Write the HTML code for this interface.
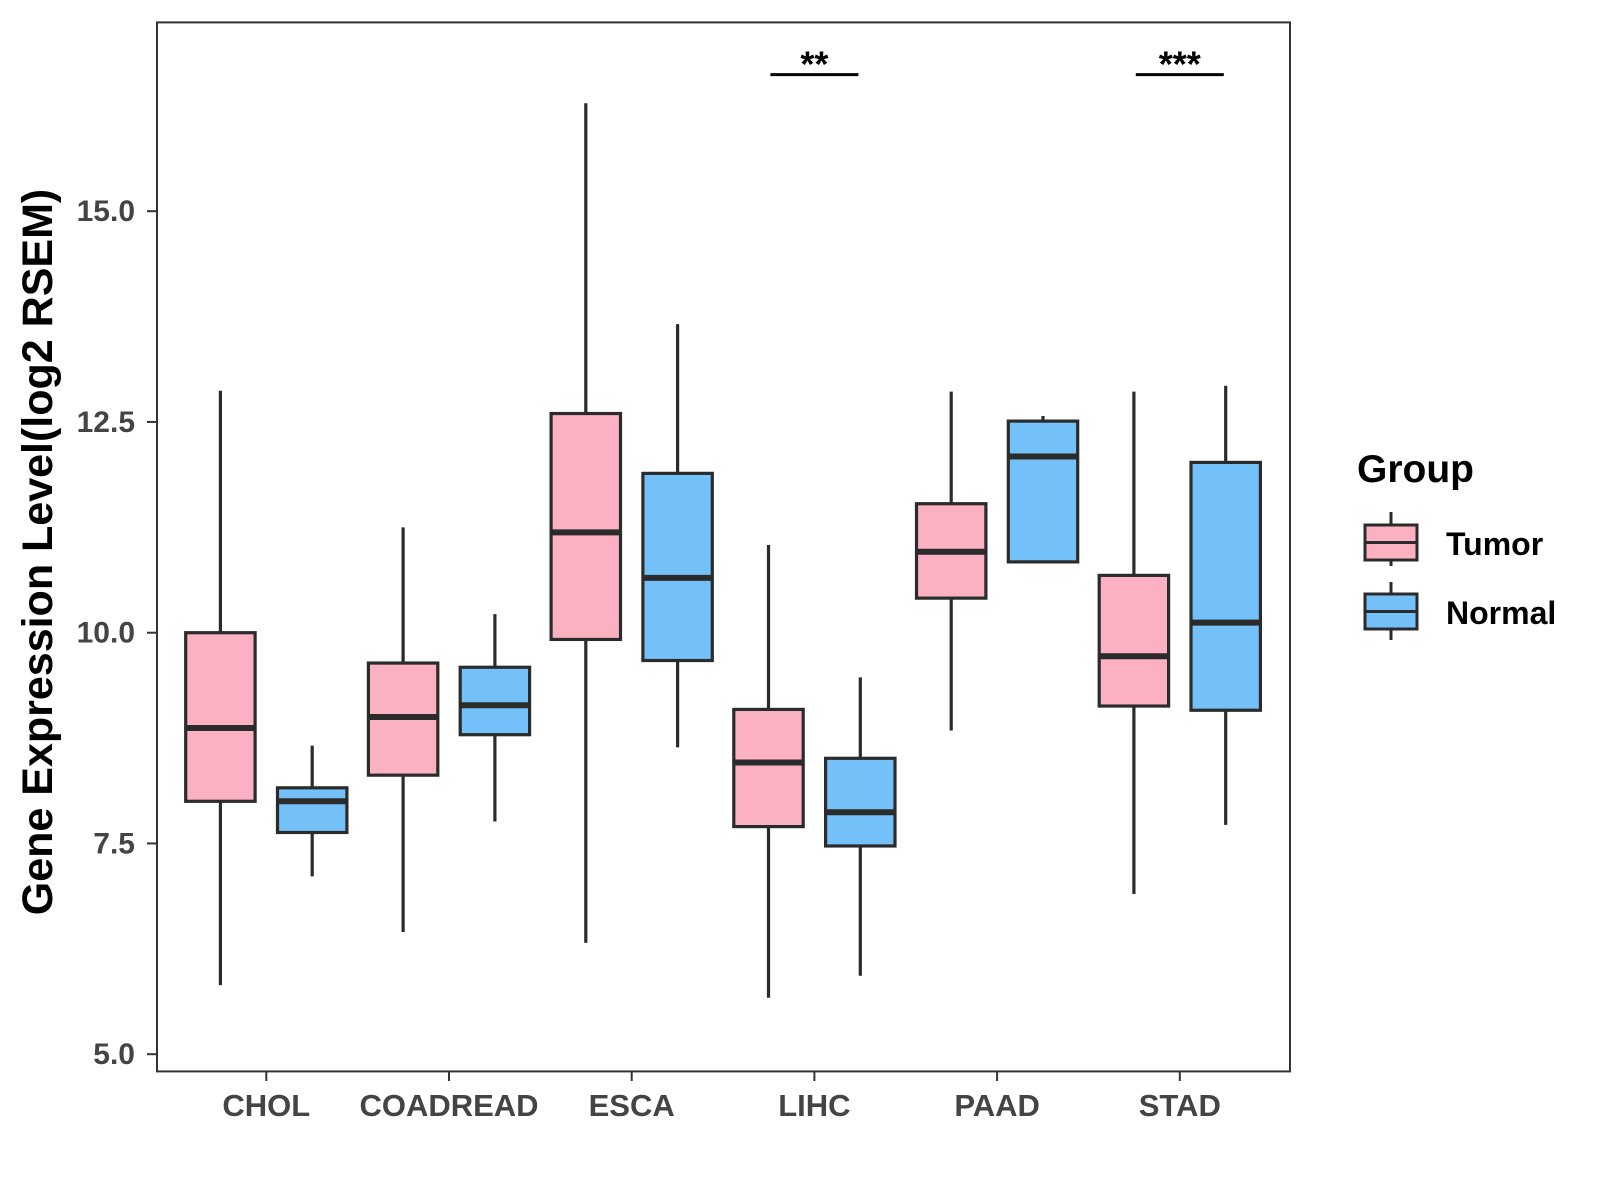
<!DOCTYPE html>
<html><head><meta charset="utf-8"><style>
html,body{margin:0;padding:0;background:#fff;}
svg{display:block;font-family:"Liberation Sans",Arial,sans-serif;}
</style></head><body>
<svg id="chart" width="1600" height="1200" viewBox="0 0 1600 1200">
<rect x="157" y="22.4" width="1133" height="1049" fill="#fff" stroke="#333" stroke-width="2"/>
<g id="marks"></g>
<text x="52" y="552" transform="rotate(-90 52 552)" text-anchor="middle" font-size="43" font-weight="bold" fill="#000">Gene Expression Level(log2 RSEM)</text>
<g>
<text x="1357" y="482" font-size="39" font-weight="bold" fill="#000">Group</text>
<g>
<line x1="1391" y1="512" x2="1391" y2="566" stroke="#2b2b2b" stroke-width="3"/>
<rect x="1365" y="525" width="52" height="35" fill="#FBB1C2" stroke="#2b2b2b" stroke-width="3"/>
<line x1="1365" y1="542.5" x2="1417" y2="542.5" stroke="#2b2b2b" stroke-width="3"/>
<text x="1446" y="555" font-size="32" font-weight="bold" fill="#000">Tumor</text>
</g>
<g>
<line x1="1391" y1="582" x2="1391" y2="640" stroke="#2b2b2b" stroke-width="3"/>
<rect x="1365" y="594" width="52" height="35" fill="#74C0F8" stroke="#2b2b2b" stroke-width="3"/>
<line x1="1365" y1="611.5" x2="1417" y2="611.5" stroke="#2b2b2b" stroke-width="3"/>
<text x="1446" y="624" font-size="32" font-weight="bold" fill="#000">Normal</text>
</g>
</g>
</svg>
<script>
const categories=["CHOL","COADREAD","ESCA","LIHC","PAAD","STAD"];
const tumorLow=[5.82,6.45,6.32,5.67,8.84,6.90];
const tumorQ1=[8.0,8.31,9.92,7.70,10.41,9.13];
const tumorMed=[8.87,9.0,11.19,8.46,10.96,9.72];
const tumorQ3=[10.0,9.64,12.6,9.09,11.53,10.68];
const tumorHigh=[12.87,11.25,16.28,11.04,12.86,12.86];
const normalLow=[7.11,7.76,8.64,5.93,10.84,7.72];
const normalQ1=[7.63,8.79,9.67,7.47,10.84,9.08];
const normalMed=[8.0,9.14,10.65,7.87,12.09,10.12];
const normalQ3=[8.16,9.59,11.89,8.51,12.51,12.02];
const normalHigh=[8.66,10.22,13.66,9.47,12.57,12.93];
const yTicks=[5.0,7.5,10.0,12.5,15.0];
const sigCategories=["LIHC","STAD"];
const sigLabels=["**","***"];
const sigLevel=16.62;

const NS="http://www.w3.org/2000/svg";
const g=document.getElementById('marks');
function y(v){return 211.2+(15-v)*84.3;}
function x(i){return 266.3+i*182.7;}
function mk(tag,attrs,parent){const e=document.createElementNS(NS,tag);for(const k in attrs)e.setAttribute(k,attrs[k]);(parent||g).appendChild(e);return e;}
const ST="#2b2b2b";
function box(cx,lo,q1,md,q3,hi,fill,name){
  const grp=mk('g',{});
  
  
  mk('line',{x1:cx,x2:cx,y1:y(hi),y2:y(lo),stroke:ST,'stroke-width':3.2},grp);
  mk('rect',{x:cx-34.7,y:y(q3),width:69.4,height:y(q1)-y(q3),fill:fill,stroke:ST,'stroke-width':3.2},grp);
  mk('line',{x1:cx-34.7,x2:cx+34.7,y1:y(md),y2:y(md),stroke:ST,'stroke-width':6},grp);
}
categories.forEach((c,i)=>{
  box(x(i)-45.9,tumorLow[i],tumorQ1[i],tumorMed[i],tumorQ3[i],tumorHigh[i],"#FBB1C2","box-tumor-"+c.toLowerCase());
  box(x(i)+45.9,normalLow[i],normalQ1[i],normalMed[i],normalQ3[i],normalHigh[i],"#74C0F8","box-normal-"+c.toLowerCase());
  mk('line',{x1:x(i),x2:x(i),y1:1071,y2:1081,stroke:'#333','stroke-width':2});
  const t=mk('text',{x:x(i),y:1116,'text-anchor':'middle','font-size':31,'font-weight':'bold',fill:'#444'});
  t.textContent=c;
  
  
});
yTicks.forEach(v=>{
  mk('line',{x1:147,x2:157,y1:y(v),y2:y(v),stroke:'#333','stroke-width':2});
  const t=mk('text',{x:135,y:y(v)+10,'text-anchor':'end','font-size':30,'font-weight':'bold',fill:'#444'});
  t.textContent=v.toFixed(1);
  
  
});
sigCategories.forEach((c,j)=>{
  const i=categories.indexOf(c);
  const l=mk('line',{x1:x(i)-44,x2:x(i)+44,y1:y(sigLevel),y2:y(sigLevel),stroke:'#000','stroke-width':3});
  
  
  const t=mk('text',{x:x(i),y:y(sigLevel)+2,'text-anchor':'middle','font-size':36,'font-weight':'bold',fill:'#000'});
  t.textContent=sigLabels[j];
  
  
});
</script>
</body></html>
